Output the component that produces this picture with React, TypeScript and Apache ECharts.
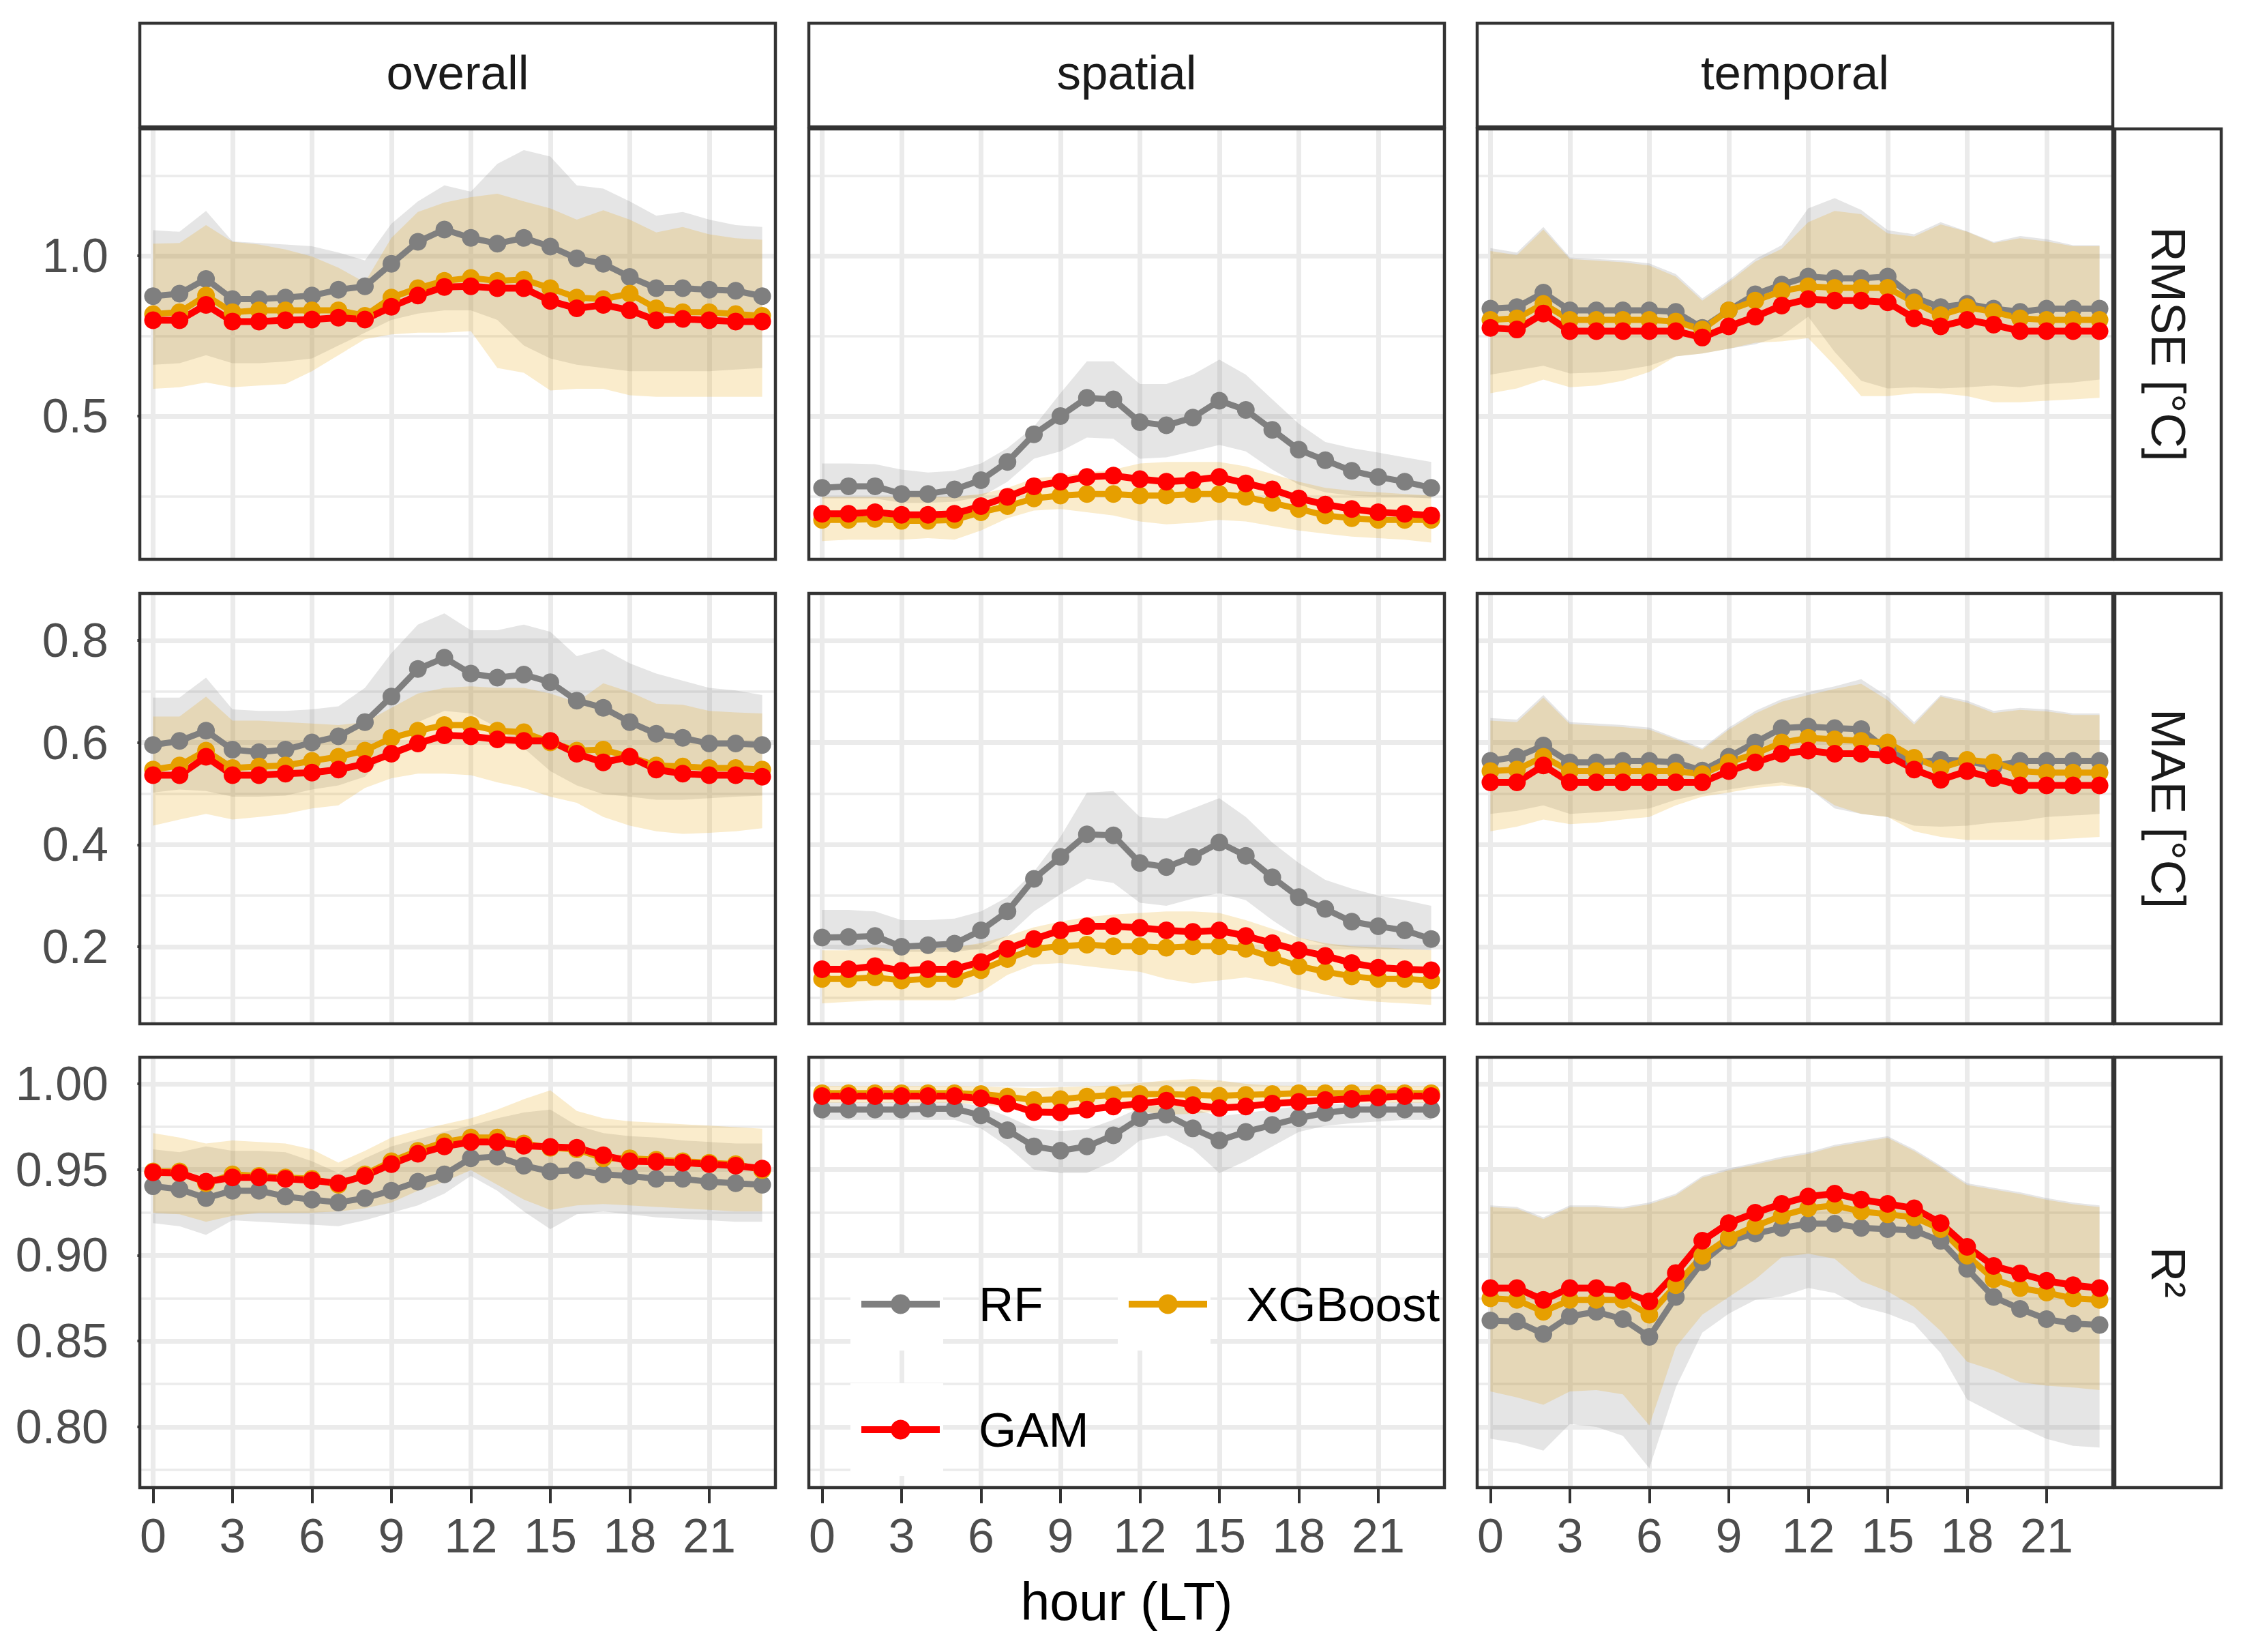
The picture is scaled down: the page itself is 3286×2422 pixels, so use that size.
import { useEffect, useRef } from "react";
import * as echarts from "echarts";

// hours of the day (LT)
const HOURS = [0, 1, 2, 3, 4, 5, 6, 7, 8, 9, 10, 11, 12, 13, 14, 15, 16, 17, 18, 19, 20, 21, 22, 23];
const X_BREAKS = [0, 3, 6, 9, 12, 15, 18, 21];

const COLUMNS = ["overall", "spatial", "temporal"];
const ROW_LABELS = ["RMSE [°C]", "MAE [°C]", "R²"];

const RMSE_BREAKS = [0.5, 1.0];
const RMSE_MINOR = [0.25, 0.75, 1.25];
const MAE_BREAKS = [0.2, 0.4, 0.6, 0.8];
const MAE_MINOR = [0.1, 0.3, 0.5, 0.7];
const R2_BREAKS = [0.8, 0.85, 0.9, 0.95, 1.0];
const R2_MINOR = [0.775, 0.825, 0.875, 0.925, 0.975];

// ---- RMSE ----
const RMSE_OV_RF = [0.874, 0.882, 0.928, 0.865, 0.865, 0.870, 0.876, 0.894, 0.905, 0.975, 1.044, 1.082, 1.056, 1.038, 1.056, 1.029, 0.992, 0.975, 0.934, 0.899, 0.899, 0.894, 0.891, 0.874];
const RMSE_OV_XGB = [0.818, 0.824, 0.876, 0.824, 0.830, 0.830, 0.830, 0.830, 0.813, 0.870, 0.899, 0.922, 0.931, 0.922, 0.926, 0.899, 0.870, 0.865, 0.882, 0.836, 0.824, 0.824, 0.818, 0.813];
const RMSE_OV_GAM = [0.799, 0.799, 0.847, 0.795, 0.795, 0.799, 0.801, 0.807, 0.801, 0.841, 0.876, 0.903, 0.905, 0.899, 0.899, 0.859, 0.836, 0.847, 0.830, 0.799, 0.803, 0.799, 0.795, 0.795];
const RMSE_OV_RF_LO = [0.660, 0.665, 0.690, 0.665, 0.665, 0.670, 0.680, 0.720, 0.760, 0.800, 0.820, 0.830, 0.830, 0.800, 0.720, 0.680, 0.660, 0.650, 0.640, 0.640, 0.640, 0.640, 0.645, 0.650];
const RMSE_OV_RF_HI = [1.080, 1.075, 1.140, 1.045, 1.040, 1.035, 1.030, 1.010, 0.986, 1.100, 1.170, 1.220, 1.200, 1.287, 1.330, 1.310, 1.220, 1.210, 1.170, 1.125, 1.137, 1.113, 1.096, 1.090];
const RMSE_OV_XGB_LO = [0.585, 0.590, 0.605, 0.590, 0.595, 0.600, 0.640, 0.690, 0.740, 0.755, 0.760, 0.760, 0.765, 0.650, 0.635, 0.580, 0.585, 0.585, 0.565, 0.560, 0.560, 0.560, 0.560, 0.560];
const RMSE_OV_XGB_HI = [1.038, 1.040, 1.096, 1.044, 1.035, 1.020, 0.998, 0.963, 0.917, 1.056, 1.137, 1.166, 1.183, 1.194, 1.170, 1.148, 1.113, 1.142, 1.113, 1.073, 1.090, 1.067, 1.055, 1.050];

const RMSE_SP_RF = [0.276, 0.281, 0.281, 0.257, 0.257, 0.271, 0.300, 0.357, 0.443, 0.500, 0.557, 0.552, 0.481, 0.471, 0.495, 0.548, 0.519, 0.457, 0.395, 0.362, 0.329, 0.310, 0.295, 0.276];
const RMSE_SP_XGB = [0.176, 0.176, 0.179, 0.173, 0.173, 0.176, 0.200, 0.219, 0.243, 0.252, 0.257, 0.257, 0.252, 0.252, 0.257, 0.257, 0.248, 0.229, 0.210, 0.190, 0.181, 0.176, 0.176, 0.176];
const RMSE_SP_GAM = [0.195, 0.195, 0.200, 0.192, 0.192, 0.195, 0.219, 0.248, 0.281, 0.295, 0.310, 0.314, 0.303, 0.295, 0.300, 0.310, 0.290, 0.271, 0.243, 0.224, 0.210, 0.200, 0.195, 0.190];
const RMSE_SP_RF_LO = [0.243, 0.243, 0.243, 0.229, 0.229, 0.233, 0.248, 0.295, 0.367, 0.390, 0.433, 0.429, 0.367, 0.371, 0.390, 0.410, 0.390, 0.333, 0.286, 0.262, 0.252, 0.248, 0.248, 0.243];
const RMSE_SP_RF_HI = [0.352, 0.352, 0.350, 0.333, 0.324, 0.329, 0.352, 0.400, 0.467, 0.571, 0.671, 0.671, 0.600, 0.600, 0.629, 0.676, 0.629, 0.552, 0.476, 0.419, 0.400, 0.386, 0.371, 0.357];
const RMSE_SP_XGB_LO = [0.110, 0.114, 0.114, 0.114, 0.119, 0.114, 0.143, 0.181, 0.205, 0.210, 0.200, 0.190, 0.171, 0.162, 0.167, 0.176, 0.171, 0.157, 0.143, 0.133, 0.124, 0.119, 0.114, 0.105];
const RMSE_SP_XGB_HI = [0.248, 0.248, 0.248, 0.248, 0.248, 0.248, 0.257, 0.276, 0.305, 0.314, 0.324, 0.333, 0.352, 0.357, 0.357, 0.357, 0.343, 0.319, 0.295, 0.276, 0.267, 0.262, 0.257, 0.252];

const RMSE_TE_RF = [0.835, 0.840, 0.885, 0.830, 0.830, 0.830, 0.830, 0.825, 0.775, 0.830, 0.880, 0.910, 0.935, 0.930, 0.930, 0.935, 0.870, 0.840, 0.850, 0.835, 0.825, 0.835, 0.835, 0.835];
const RMSE_TE_XGB = [0.800, 0.805, 0.850, 0.800, 0.800, 0.800, 0.800, 0.795, 0.770, 0.830, 0.860, 0.890, 0.905, 0.900, 0.900, 0.900, 0.855, 0.815, 0.840, 0.825, 0.805, 0.800, 0.800, 0.800];
const RMSE_TE_GAM = [0.775, 0.770, 0.820, 0.765, 0.765, 0.765, 0.765, 0.765, 0.745, 0.780, 0.810, 0.845, 0.865, 0.860, 0.860, 0.855, 0.805, 0.780, 0.800, 0.785, 0.765, 0.765, 0.765, 0.765];
const RMSE_TE_RF_LO = [0.629, 0.643, 0.657, 0.633, 0.636, 0.643, 0.657, 0.686, 0.695, 0.710, 0.724, 0.750, 0.810, 0.700, 0.610, 0.586, 0.590, 0.586, 0.590, 0.595, 0.590, 0.600, 0.605, 0.614];
const RMSE_TE_RF_HI = [1.024, 1.010, 1.090, 0.995, 0.990, 0.986, 0.976, 0.943, 0.867, 0.924, 0.990, 1.033, 1.148, 1.180, 1.143, 1.080, 1.067, 1.105, 1.076, 1.043, 1.062, 1.052, 1.033, 1.033];
const RMSE_TE_XGB_LO = [0.571, 0.586, 0.614, 0.590, 0.595, 0.610, 0.638, 0.686, 0.695, 0.710, 0.729, 0.733, 0.743, 0.657, 0.562, 0.562, 0.571, 0.571, 0.562, 0.543, 0.543, 0.548, 0.552, 0.557];
const RMSE_TE_XGB_HI = [1.015, 1.002, 1.082, 0.990, 0.985, 0.980, 0.970, 0.935, 0.860, 0.918, 0.982, 1.022, 1.105, 1.140, 1.130, 1.070, 1.060, 1.098, 1.075, 1.040, 1.055, 1.045, 1.030, 1.030];

// ---- MAE ----
const MAE_OV_RF = [0.595, 0.603, 0.623, 0.586, 0.581, 0.586, 0.600, 0.612, 0.640, 0.690, 0.744, 0.766, 0.735, 0.727, 0.733, 0.718, 0.682, 0.668, 0.640, 0.617, 0.609, 0.598, 0.598, 0.595];
const MAE_OV_XGB = [0.547, 0.555, 0.584, 0.550, 0.553, 0.555, 0.564, 0.572, 0.584, 0.609, 0.623, 0.634, 0.634, 0.623, 0.620, 0.600, 0.584, 0.586, 0.572, 0.555, 0.553, 0.550, 0.550, 0.547];
const MAE_OV_GAM = [0.536, 0.536, 0.572, 0.536, 0.536, 0.539, 0.541, 0.547, 0.558, 0.578, 0.598, 0.614, 0.612, 0.606, 0.603, 0.603, 0.578, 0.561, 0.572, 0.547, 0.539, 0.536, 0.536, 0.533];
const MAE_OV_RF_LO = [0.502, 0.508, 0.505, 0.494, 0.494, 0.496, 0.508, 0.516, 0.533, 0.589, 0.640, 0.662, 0.657, 0.629, 0.589, 0.544, 0.516, 0.499, 0.494, 0.488, 0.488, 0.491, 0.494, 0.496];
const MAE_OV_RF_HI = [0.688, 0.688, 0.727, 0.665, 0.662, 0.662, 0.665, 0.671, 0.707, 0.775, 0.831, 0.853, 0.820, 0.820, 0.831, 0.817, 0.769, 0.783, 0.755, 0.735, 0.721, 0.707, 0.702, 0.693];
const MAE_OV_XGB_LO = [0.437, 0.449, 0.460, 0.449, 0.454, 0.460, 0.471, 0.477, 0.511, 0.530, 0.539, 0.539, 0.536, 0.522, 0.511, 0.494, 0.482, 0.454, 0.437, 0.426, 0.421, 0.423, 0.426, 0.432];
const MAE_OV_XGB_HI = [0.651, 0.651, 0.690, 0.643, 0.643, 0.640, 0.637, 0.634, 0.640, 0.668, 0.696, 0.707, 0.710, 0.707, 0.707, 0.696, 0.679, 0.716, 0.699, 0.676, 0.674, 0.662, 0.659, 0.657];

const MAE_SP_RF = [0.218, 0.219, 0.221, 0.200, 0.203, 0.206, 0.232, 0.269, 0.333, 0.376, 0.420, 0.418, 0.364, 0.356, 0.376, 0.404, 0.378, 0.336, 0.297, 0.274, 0.249, 0.240, 0.232, 0.215];
const MAE_SP_XGB = [0.137, 0.137, 0.140, 0.134, 0.137, 0.137, 0.154, 0.176, 0.196, 0.201, 0.204, 0.201, 0.201, 0.198, 0.201, 0.201, 0.196, 0.179, 0.162, 0.151, 0.142, 0.137, 0.137, 0.134];
const MAE_SP_GAM = [0.156, 0.156, 0.162, 0.153, 0.156, 0.156, 0.170, 0.196, 0.215, 0.232, 0.240, 0.240, 0.237, 0.232, 0.229, 0.232, 0.221, 0.207, 0.193, 0.182, 0.168, 0.159, 0.156, 0.154];
const MAE_SP_RF_LO = [0.196, 0.193, 0.193, 0.190, 0.190, 0.190, 0.196, 0.221, 0.269, 0.303, 0.333, 0.325, 0.286, 0.280, 0.294, 0.305, 0.291, 0.252, 0.218, 0.204, 0.199, 0.196, 0.195, 0.193];
const MAE_SP_RF_HI = [0.272, 0.272, 0.269, 0.252, 0.252, 0.255, 0.269, 0.297, 0.347, 0.415, 0.502, 0.505, 0.454, 0.451, 0.471, 0.491, 0.454, 0.404, 0.364, 0.331, 0.314, 0.300, 0.291, 0.280];
const MAE_SP_XGB_LO = [0.089, 0.092, 0.095, 0.095, 0.095, 0.095, 0.111, 0.145, 0.165, 0.168, 0.162, 0.156, 0.151, 0.137, 0.128, 0.134, 0.140, 0.131, 0.117, 0.106, 0.097, 0.092, 0.089, 0.086];
const MAE_SP_XGB_HI = [0.193, 0.193, 0.199, 0.193, 0.196, 0.199, 0.207, 0.221, 0.238, 0.249, 0.258, 0.263, 0.266, 0.269, 0.269, 0.266, 0.252, 0.235, 0.218, 0.207, 0.201, 0.199, 0.196, 0.193];

const MAE_TE_RF = [0.564, 0.572, 0.594, 0.561, 0.561, 0.564, 0.564, 0.561, 0.545, 0.572, 0.600, 0.628, 0.631, 0.628, 0.626, 0.584, 0.561, 0.566, 0.564, 0.553, 0.564, 0.564, 0.564, 0.564];
const MAE_TE_XGB = [0.544, 0.547, 0.572, 0.544, 0.544, 0.544, 0.544, 0.544, 0.538, 0.561, 0.578, 0.600, 0.609, 0.606, 0.603, 0.600, 0.570, 0.550, 0.566, 0.561, 0.544, 0.541, 0.541, 0.541];
const MAE_TE_GAM = [0.522, 0.522, 0.555, 0.522, 0.522, 0.522, 0.522, 0.522, 0.522, 0.544, 0.561, 0.578, 0.584, 0.578, 0.578, 0.575, 0.547, 0.527, 0.544, 0.530, 0.516, 0.516, 0.516, 0.516];
const MAE_TE_RF_LO = [0.460, 0.466, 0.477, 0.460, 0.463, 0.466, 0.471, 0.488, 0.499, 0.508, 0.516, 0.522, 0.511, 0.471, 0.460, 0.454, 0.437, 0.435, 0.437, 0.443, 0.446, 0.454, 0.457, 0.460];
const MAE_TE_RF_HI = [0.648, 0.645, 0.693, 0.640, 0.637, 0.634, 0.629, 0.609, 0.589, 0.629, 0.662, 0.685, 0.699, 0.710, 0.724, 0.690, 0.640, 0.693, 0.682, 0.662, 0.668, 0.665, 0.657, 0.657];
const MAE_TE_XGB_LO = [0.426, 0.435, 0.449, 0.440, 0.443, 0.449, 0.454, 0.477, 0.494, 0.502, 0.511, 0.516, 0.511, 0.477, 0.460, 0.454, 0.426, 0.415, 0.409, 0.409, 0.409, 0.409, 0.412, 0.415];
const MAE_TE_XGB_HI = [0.643, 0.640, 0.688, 0.636, 0.633, 0.630, 0.625, 0.606, 0.586, 0.625, 0.657, 0.680, 0.693, 0.705, 0.715, 0.683, 0.635, 0.690, 0.678, 0.658, 0.664, 0.661, 0.654, 0.654];

// ---- R2 ----
const R2_OV_RF = [0.9403, 0.9386, 0.9334, 0.9377, 0.9377, 0.9343, 0.9325, 0.9308, 0.9334, 0.9377, 0.9429, 0.9472, 0.9566, 0.9575, 0.9523, 0.9489, 0.9497, 0.9472, 0.9463, 0.9446, 0.9446, 0.9429, 0.9420, 0.9411];
const R2_OV_XGB = [0.9489, 0.9489, 0.9420, 0.9472, 0.9463, 0.9454, 0.9446, 0.9411, 0.9472, 0.9549, 0.9609, 0.9661, 0.9687, 0.9687, 0.9652, 0.9627, 0.9618, 0.9566, 0.9566, 0.9558, 0.9549, 0.9540, 0.9532, 0.9497];
const R2_OV_GAM = [0.9484, 0.9480, 0.9429, 0.9454, 0.9454, 0.9446, 0.9437, 0.9420, 0.9463, 0.9532, 0.9592, 0.9635, 0.9661, 0.9661, 0.9639, 0.9632, 0.9627, 0.9583, 0.9549, 0.9546, 0.9540, 0.9532, 0.9523, 0.9506];
const R2_OV_RF_LO = [0.9188, 0.9170, 0.9119, 0.9205, 0.9196, 0.9188, 0.9179, 0.9170, 0.9205, 0.9248, 0.9291, 0.9360, 0.9463, 0.9377, 0.9256, 0.9153, 0.9239, 0.9256, 0.9239, 0.9222, 0.9213, 0.9205, 0.9196, 0.9196];
const R2_OV_RF_HI = [0.9618, 0.9601, 0.9635, 0.9609, 0.9609, 0.9601, 0.9549, 0.9480, 0.9566, 0.9635, 0.9678, 0.9721, 0.9756, 0.9799, 0.9833, 0.9850, 0.9756, 0.9713, 0.9695, 0.9687, 0.9670, 0.9661, 0.9652, 0.9652];
const R2_OV_XGB_LO = [0.9248, 0.9239, 0.9196, 0.9231, 0.9248, 0.9248, 0.9248, 0.9256, 0.9274, 0.9308, 0.9377, 0.9429, 0.9497, 0.9411, 0.9325, 0.9265, 0.9291, 0.9299, 0.9291, 0.9282, 0.9274, 0.9265, 0.9256, 0.9256];
const R2_OV_XGB_HI = [0.9713, 0.9687, 0.9652, 0.9670, 0.9661, 0.9652, 0.9618, 0.9541, 0.9609, 0.9687, 0.9730, 0.9764, 0.9799, 0.9850, 0.9910, 0.9962, 0.9842, 0.9799, 0.9781, 0.9773, 0.9764, 0.9756, 0.9747, 0.9738];

const R2_SP_RF = [0.9850, 0.9850, 0.9850, 0.9850, 0.9855, 0.9855, 0.9816, 0.9730, 0.9635, 0.9610, 0.9635, 0.9700, 0.9800, 0.9820, 0.9740, 0.9670, 0.9720, 0.9760, 0.9800, 0.9830, 0.9850, 0.9850, 0.9850, 0.9850];
const R2_SP_XGB = [0.9945, 0.9945, 0.9945, 0.9945, 0.9945, 0.9945, 0.9940, 0.9925, 0.9905, 0.9910, 0.9925, 0.9935, 0.9940, 0.9940, 0.9935, 0.9930, 0.9935, 0.9940, 0.9945, 0.9945, 0.9945, 0.9945, 0.9945, 0.9945];
const R2_SP_GAM = [0.9928, 0.9928, 0.9928, 0.9928, 0.9928, 0.9928, 0.9915, 0.9885, 0.9835, 0.9833, 0.9850, 0.9868, 0.9885, 0.9902, 0.9876, 0.9859, 0.9868, 0.9885, 0.9895, 0.9905, 0.9912, 0.9920, 0.9928, 0.9928];
const R2_SP_RF_LO = [0.9790, 0.9790, 0.9790, 0.9790, 0.9790, 0.9790, 0.9740, 0.9635, 0.9500, 0.9480, 0.9480, 0.9550, 0.9670, 0.9700, 0.9620, 0.9480, 0.9550, 0.9635, 0.9720, 0.9755, 0.9770, 0.9780, 0.9790, 0.9790];
const R2_SP_RF_HI = [0.9893, 0.9893, 0.9893, 0.9893, 0.9895, 0.9895, 0.9870, 0.9810, 0.9740, 0.9725, 0.9735, 0.9790, 0.9860, 0.9880, 0.9855, 0.9810, 0.9830, 0.9850, 0.9870, 0.9880, 0.9885, 0.9890, 0.9893, 0.9893];
const R2_SP_XGB_LO = [0.9890, 0.9890, 0.9890, 0.9890, 0.9890, 0.9890, 0.9880, 0.9860, 0.9830, 0.9835, 0.9850, 0.9860, 0.9840, 0.9820, 0.9825, 0.9840, 0.9860, 0.9880, 0.9890, 0.9890, 0.9890, 0.9890, 0.9890, 0.9890];
const R2_SP_XGB_HI = [0.9988, 0.9988, 0.9988, 0.9988, 0.9988, 0.9988, 0.9985, 0.9980, 0.9975, 0.9980, 0.9985, 0.9990, 1.0005, 1.0020, 1.0028, 1.0020, 1.0000, 0.9990, 0.9988, 0.9988, 0.9988, 0.9988, 0.9988, 0.9988];

const R2_TE_RF = [0.8620, 0.8614, 0.8542, 0.8645, 0.8671, 0.8628, 0.8525, 0.8757, 0.8960, 0.9084, 0.9127, 0.9160, 0.9185, 0.9185, 0.9160, 0.9153, 0.9145, 0.9084, 0.8921, 0.8757, 0.8688, 0.8628, 0.8602, 0.8594];
const R2_TE_XGB = [0.8749, 0.8740, 0.8671, 0.8740, 0.8740, 0.8740, 0.8654, 0.8826, 0.8998, 0.9102, 0.9170, 0.9231, 0.9274, 0.9291, 0.9256, 0.9239, 0.9222, 0.9153, 0.8998, 0.8861, 0.8809, 0.8783, 0.8749, 0.8740];
const R2_TE_GAM = [0.8809, 0.8809, 0.8740, 0.8809, 0.8809, 0.8792, 0.8732, 0.8897, 0.9085, 0.9188, 0.9248, 0.9300, 0.9343, 0.9360, 0.9325, 0.9300, 0.9274, 0.9188, 0.9050, 0.8938, 0.8895, 0.8852, 0.8826, 0.8809];
const R2_TE_RF_LO = [0.7931, 0.7905, 0.7862, 0.8017, 0.8000, 0.7948, 0.7759, 0.8230, 0.8550, 0.8660, 0.8740, 0.8760, 0.8810, 0.8780, 0.8700, 0.8660, 0.8600, 0.8430, 0.8160, 0.8080, 0.8000, 0.7930, 0.7890, 0.7880];
const R2_TE_RF_HI = [0.9291, 0.9282, 0.9222, 0.9291, 0.9291, 0.9282, 0.9308, 0.9360, 0.9463, 0.9506, 0.9540, 0.9575, 0.9601, 0.9644, 0.9670, 0.9695, 0.9618, 0.9523, 0.9420, 0.9394, 0.9368, 0.9334, 0.9308, 0.9291];
const R2_TE_XGB_LO = [0.8207, 0.8172, 0.8129, 0.8207, 0.8215, 0.8190, 0.8009, 0.8465, 0.8654, 0.8757, 0.8860, 0.8990, 0.9010, 0.8980, 0.8850, 0.8790, 0.8700, 0.8560, 0.8380, 0.8330, 0.8260, 0.8240, 0.8230, 0.8215];
const R2_TE_XGB_HI = [0.9281, 0.9272, 0.9212, 0.9281, 0.9281, 0.9272, 0.9298, 0.9350, 0.9453, 0.9496, 0.9530, 0.9565, 0.9591, 0.9634, 0.9660, 0.9685, 0.9608, 0.9513, 0.9410, 0.9384, 0.9358, 0.9324, 0.9298, 0.9281];

// layout (px)
const FONT = "'Liberation Sans', Arial, sans-serif";
const COL_LEFT = [205, 1186, 2166];
const ROW_TOP = [189, 870, 1550];
const PANEL_W = 932;
const PANEL_H = 631;

const ROW_AXES = [
  { min: 0.053, max: 1.396, breaks: RMSE_BREAKS, minor: RMSE_MINOR, digits: 1 },
  { min: 0.049, max: 0.892, breaks: MAE_BREAKS, minor: MAE_MINOR, digits: 1 },
  { min: 0.7646, max: 1.0155, breaks: R2_BREAKS, minor: R2_MINOR, digits: 2 },
];

const PANELS = [
  { row: 0, col: 0, rf: RMSE_OV_RF, xgb: RMSE_OV_XGB, gam: RMSE_OV_GAM, rfLo: RMSE_OV_RF_LO, rfHi: RMSE_OV_RF_HI, xgbLo: RMSE_OV_XGB_LO, xgbHi: RMSE_OV_XGB_HI },
  { row: 0, col: 1, rf: RMSE_SP_RF, xgb: RMSE_SP_XGB, gam: RMSE_SP_GAM, rfLo: RMSE_SP_RF_LO, rfHi: RMSE_SP_RF_HI, xgbLo: RMSE_SP_XGB_LO, xgbHi: RMSE_SP_XGB_HI },
  { row: 0, col: 2, rf: RMSE_TE_RF, xgb: RMSE_TE_XGB, gam: RMSE_TE_GAM, rfLo: RMSE_TE_RF_LO, rfHi: RMSE_TE_RF_HI, xgbLo: RMSE_TE_XGB_LO, xgbHi: RMSE_TE_XGB_HI },
  { row: 1, col: 0, rf: MAE_OV_RF, xgb: MAE_OV_XGB, gam: MAE_OV_GAM, rfLo: MAE_OV_RF_LO, rfHi: MAE_OV_RF_HI, xgbLo: MAE_OV_XGB_LO, xgbHi: MAE_OV_XGB_HI },
  { row: 1, col: 1, rf: MAE_SP_RF, xgb: MAE_SP_XGB, gam: MAE_SP_GAM, rfLo: MAE_SP_RF_LO, rfHi: MAE_SP_RF_HI, xgbLo: MAE_SP_XGB_LO, xgbHi: MAE_SP_XGB_HI },
  { row: 1, col: 2, rf: MAE_TE_RF, xgb: MAE_TE_XGB, gam: MAE_TE_GAM, rfLo: MAE_TE_RF_LO, rfHi: MAE_TE_RF_HI, xgbLo: MAE_TE_XGB_LO, xgbHi: MAE_TE_XGB_HI },
  { row: 2, col: 0, rf: R2_OV_RF, xgb: R2_OV_XGB, gam: R2_OV_GAM, rfLo: R2_OV_RF_LO, rfHi: R2_OV_RF_HI, xgbLo: R2_OV_XGB_LO, xgbHi: R2_OV_XGB_HI },
  { row: 2, col: 1, rf: R2_SP_RF, xgb: R2_SP_XGB, gam: R2_SP_GAM, rfLo: R2_SP_RF_LO, rfHi: R2_SP_RF_HI, xgbLo: R2_SP_XGB_LO, xgbHi: R2_SP_XGB_HI },
  { row: 2, col: 2, rf: R2_TE_RF, xgb: R2_TE_XGB, gam: R2_TE_GAM, rfLo: R2_TE_RF_LO, rfHi: R2_TE_RF_HI, xgbLo: R2_TE_XGB_LO, xgbHi: R2_TE_XGB_HI },
];

const RF_COLOR = "#7F7F7F";
const XGB_COLOR = "#E69F00";
const GAM_COLOR = "#FF0000";

function ribbon(idx: number, lo: number[], hi: number[], fill: string) {
  return {
    type: "custom",
    xAxisIndex: idx,
    yAxisIndex: idx,
    silent: true,
    z: 2,
    clip: true,
    data: HOURS.map((h, k) => [h, lo[k], hi[k]]),
    encode: { x: 0, y: [1, 2] },
    renderItem: (params: any, api: any) => {
      if (params.dataIndex !== 0) return null;
      const upper = HOURS.map((h, k) => api.coord([h, hi[k]]));
      const lower = HOURS.map((h, k) => api.coord([h, lo[k]])).reverse();
      return {
        type: "polygon",
        shape: { points: upper.concat(lower) },
        style: { fill },
      };
    },
  };
}

function lineSeries(idx: number, name: string, values: number[], color: string, extra: any = {}) {
  return {
    type: "line",
    name,
    xAxisIndex: idx,
    yAxisIndex: idx,
    z: 3,
    data: HOURS.map((h, k) => [h, values[k]]),
    symbol: "circle",
    symbolSize: 26,
    showSymbol: true,
    lineStyle: { width: name === "GAM" ? 10 : 9, color },
    itemStyle: { color, borderWidth: 0 },
    emphasis: { disabled: true },
    ...extra,
  };
}

export default function App() {
  const chartRef = useRef<HTMLDivElement>(null);

  useEffect(() => {
    document.body.style.margin = "0";
    if (!chartRef.current) return;
    const chart = echarts.init(chartRef.current, null, { renderer: "svg" });

    const grids: any[] = [];
    const xAxes: any[] = [];
    const yAxes: any[] = [];
    const series: any[] = [];
    const graphics: any[] = [];

    PANELS.forEach((p, i) => {
      const ax = ROW_AXES[p.row];
      grids.push({
        left: COL_LEFT[p.col],
        top: ROW_TOP[p.row],
        width: PANEL_W,
        height: PANEL_H,
        containLabel: false,
        outerBoundsMode: "none",
      });
      xAxes.push({
        type: "value",
        gridIndex: i,
        min: -0.5,
        max: 23.5,
        splitNumber: 8,
        axisLine: { show: false },
        splitLine: { show: false },
        axisTick: {
          show: p.row === 2,
          customValues: X_BREAKS,
          length: 23,
          lineStyle: { color: "#333333", width: 4 },
        },
        axisLabel: {
          show: p.row === 2,
          customValues: X_BREAKS,
          margin: 36,
          fontSize: 70,
          color: "#4D4D4D",
          fontFamily: FONT,
        },
      });
      yAxes.push({
        type: "value",
        gridIndex: i,
        min: ax.min,
        max: ax.max,
        axisLine: { show: false },
        splitLine: { show: false },
        axisTick: {
          show: p.col === 0,
          customValues: ax.breaks,
          length: 23,
          lineStyle: { color: "#333333", width: 4 },
        },
        axisLabel: {
          show: p.col === 0,
          customValues: ax.breaks,
          margin: 46,
          fontSize: 70,
          color: "#4D4D4D",
          fontFamily: FONT,
          formatter: (v: number) => v.toFixed(ax.digits),
        },
      });

      series.push(ribbon(i, p.rfLo, p.rfHi, "rgba(127,127,127,0.2)"));
      series.push(ribbon(i, p.xgbLo, p.xgbHi, "rgba(230,159,0,0.2)"));
      series.push(
        lineSeries(i, "RF", p.rf, RF_COLOR, {
          markLine: {
            silent: true,
            z: 1,
            precision: 4,
            symbol: ["none", "none"],
            label: { show: false },
            emphasis: { disabled: true },
            animation: false,
            lineStyle: { color: "#EBEBEB", type: "solid", width: 7 },
            data: [
              ...X_BREAKS.map((v) => ({ xAxis: v })),
              ...ax.breaks.map((v) => ({ yAxis: v })),
              ...ax.minor.map((v) => ({
                yAxis: v,
                lineStyle: { color: "#EBEBEB", type: "solid", width: 3.5 },
              })),
            ],
          },
        })
      );
      series.push(lineSeries(i, "XGBoost", p.xgb, XGB_COLOR));
      series.push(lineSeries(i, "GAM", p.gam, GAM_COLOR));

      // panel border
      graphics.push({
        type: "rect",
        z: 10,
        silent: true,
        shape: { x: COL_LEFT[p.col], y: ROW_TOP[p.row], width: PANEL_W, height: PANEL_H },
        style: { fill: "none", stroke: "#333333", lineWidth: 4.5 },
      });
    });

    // column strips
    COLUMNS.forEach((label, c) => {
      graphics.push({
        type: "rect",
        z: 10,
        silent: true,
        shape: { x: COL_LEFT[c], y: 34, width: PANEL_W, height: 152 },
        style: { fill: "#FFFFFF", stroke: "#333333", lineWidth: 4.5 },
      });
      graphics.push({
        type: "text",
        z: 11,
        silent: true,
        x: COL_LEFT[c] + PANEL_W / 2,
        y: 106,
        style: {
          text: label,
          fontSize: 71,
          fontFamily: FONT,
          fill: "#1A1A1A",
          align: "center",
          verticalAlign: "middle",
        },
      });
    });

    // row strips
    ROW_LABELS.forEach((label, r) => {
      graphics.push({
        type: "rect",
        z: 10,
        silent: true,
        shape: { x: 3101, y: ROW_TOP[r], width: 156, height: PANEL_H },
        style: { fill: "#FFFFFF", stroke: "#333333", lineWidth: 4.5 },
      });
      graphics.push({
        type: "text",
        z: 11,
        silent: true,
        x: 3179,
        y: ROW_TOP[r] + PANEL_H / 2,
        rotation: -Math.PI / 2,
        style: {
          text: label,
          fontSize: 71,
          fontFamily: FONT,
          fill: "#1A1A1A",
          align: "center",
          verticalAlign: "middle",
        },
      });
    });

    // white legend key backgrounds
    [
      [1247, 1844],
      [1639, 1844],
      [1247, 2028],
    ].forEach(([x, y]) => {
      graphics.push({
        type: "rect",
        z: 1.5,
        silent: true,
        shape: { x, y, width: 136, height: 136 },
        style: { fill: "#FFFFFF" },
      });
    });

    // x axis title
    graphics.push({
      type: "text",
      z: 11,
      silent: true,
      x: COL_LEFT[1] + PANEL_W / 2,
      y: 2348,
      style: {
        text: "hour (LT)",
        fontSize: 77,
        fontFamily: FONT,
        fill: "#000000",
        align: "center",
        verticalAlign: "middle",
      },
    });

    const legendBase = {
      orient: "horizontal",
      padding: 0,
      itemWidth: 115,
      itemHeight: 36,
      selectedMode: false,
      lineStyle: { width: 10 },
      textStyle: {
        fontSize: 71,
        fontFamily: FONT,
        color: "#000000",
        lineHeight: 80,
        padding: [0, 0, 0, 52],
      },
    };

    const option: any = {
      animation: false,
      backgroundColor: "#FFFFFF",
      textStyle: { fontFamily: FONT },
      grid: grids,
      xAxis: xAxes,
      yAxis: yAxes,
      series,
      graphic: { elements: graphics },
      legend: [
        { ...legendBase, data: ["RF"], left: 1258, top: 1872 },
        { ...legendBase, data: ["XGBoost"], left: 1650, top: 1872 },
        { ...legendBase, data: ["GAM"], left: 1258, top: 2056 },
      ],
    };

    chart.setOption(option);
    return () => {
      chart.dispose();
    };
  }, []);

  return <div ref={chartRef} style={{ width: "3286px", height: "2422px" }} />;
}
